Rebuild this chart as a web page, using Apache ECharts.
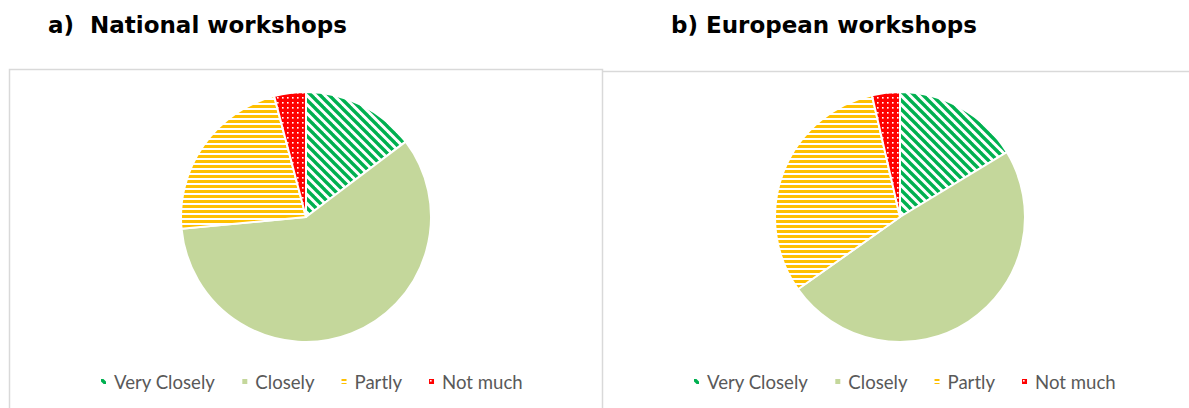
<!DOCTYPE html>
<html>
<head>
<meta charset="utf-8">
<style>
  html, body { margin: 0; padding: 0; background: #ffffff; }
  #chart { width: 1189px; height: 408px; }
</style>
<script src="https://cdn.jsdelivr.net/npm/echarts@6/dist/echarts.min.js"></script>
</head>
<body>
<div id="chart"></div>
<script>
// Survey answers: how closely the workshops matched expectations
const categories = ['Very Closely', 'Closely', 'Partly', 'Not much'];
const nationalShares = [14.7, 58.8, 22.4, 4.1];
const europeanShares = [16.3, 48.9, 31.2, 3.6];
const panelTitles = ['a)\u00a0 National workshops', 'b) European workshops'];

// Small tiles used as repeating fills for the slices
function makeTile(w, h, draw) {
  const c = document.createElement('canvas');
  c.width = w; c.height = h;
  const ctx = c.getContext('2d');
  ctx.fillStyle = '#ffffff';
  ctx.fillRect(0, 0, w, h);
  draw(ctx, w, h);
  return { image: c, repeat: 'repeat', imageWidth: w, imageHeight: h };
}

const diagonalGreen = makeTile(9, 9, function (ctx, w, h) {
  ctx.strokeStyle = '#00B050';
  ctx.lineWidth = 3.4;
  for (let k = -1; k <= 1; k++) {
    ctx.beginPath();
    ctx.moveTo(k * w - 2, -2);
    ctx.lineTo(k * w + w + 2, h + 2);
    ctx.stroke();
  }
});

const horizontalOrange = makeTile(6, 5, function (ctx, w, h) {
  ctx.fillStyle = '#FFC000';
  ctx.fillRect(0, 0, w, 3);
});

const dottedRed = makeTile(5, 5, function (ctx, w, h) {
  ctx.fillStyle = '#FF0000';
  ctx.fillRect(0, 0, w, h);
  ctx.fillStyle = '#ffffff';
  ctx.fillRect(2, 2, 1.6, 1.6);
});

const sliceFills = [diagonalGreen, '#C4D79B', horizontalOrange, dottedRed];

function pieData(values) {
  return categories.map(function (name, i) {
    return { name: name, value: values[i], itemStyle: { color: sliceFills[i] } };
  });
}

function pieSeries(values, cx) {
  return {
    type: 'pie',
    center: [cx, 217],
    radius: [0, 125],
    startAngle: 90,
    clockwise: true,
    label: { show: false },
    labelLine: { show: false },
    emphasis: { scale: false },
    itemStyle: { borderColor: '#ffffff', borderWidth: 2 },
    data: pieData(values)
  };
}

const legendText = { fontFamily: 'Lato', fontSize: 18.6, color: '#595959', padding: [0, 0, 0, 2] };
const titleText = { fontFamily: 'DejaVu Sans', fontWeight: 'bold', fontSize: 23, color: '#000000' };

const chart = echarts.init(document.getElementById('chart'), null, { renderer: 'svg' });
chart.setOption({
  animation: false,
  title: [
    { text: panelTitles[0], left: 43, top: 8, textStyle: titleText },
    { text: panelTitles[1], left: 666, top: 8, textStyle: titleText }
  ],
  legend: [
    { data: categories, left: 94, top: 367, icon: 'rect', itemWidth: 7, itemHeight: 7,
      itemGap: 25, textStyle: legendText, selectedMode: false },
    { data: categories, left: 687, top: 367, icon: 'rect', itemWidth: 7, itemHeight: 7,
      itemGap: 25, textStyle: legendText, selectedMode: false }
  ],
  graphic: [
    { type: 'rect', silent: true,
      shape: { x: 9.5, y: 69.5, width: 593, height: 400 },
      style: { fill: 'none', stroke: '#D9D9D9', lineWidth: 1.5 } },
    { type: 'line', silent: true,
      shape: { x1: 603, y1: 71.5, x2: 1189, y2: 71.5 },
      style: { stroke: '#D9D9D9', lineWidth: 1.5 } }
  ],
  series: [
    pieSeries(nationalShares, 306),
    pieSeries(europeanShares, 900)
  ]
});
</script>
</body>
</html>
